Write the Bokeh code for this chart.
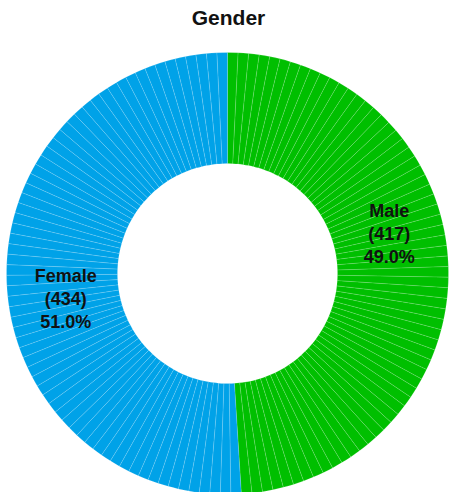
import math
from bokeh.plotting import figure
from bokeh.models import Range1d, Label
from bokeh.core.properties import value
from bokeh.embed import file_html
from bokeh.resources import INLINE

genders = ["Male", "Female"]
counts = [417, 434]
colors = ["#00bf00", "#00a2e8"]
title_text = "Gender"

W, H = 449, 492
cx, cy = 227, 219
R_OUT, R_IN = 221, 110
SEG_DEG = 2.75

p = figure(width=W, height=H, output_backend="svg", toolbar_location=None,
           x_range=Range1d(0, W), y_range=Range1d(0, H), min_border=0)
p.axis.visible = False
p.grid.visible = False
p.outline_line_color = None
p.background_fill_color = "white"
p.border_fill_color = "white"

total = sum(counts)
start = 90.0  # degrees, going clockwise
for g, c, col in zip(genders, counts, colors):
    span = 360.0 * c / total
    end = start - span
    nseg = max(1, round(span / SEG_DEG))
    step = span / nseg
    starts, ends = [], []
    for i in range(nseg):
        a1 = start - i * step
        a0 = a1 - step
        starts.append(math.radians(a0))
        ends.append(math.radians(a1))
    p.annular_wedge(x=[cx] * nseg, y=[cy] * nseg, inner_radius=R_IN, outer_radius=R_OUT,
                    start_angle=starts, end_angle=ends, direction="anticlock",
                    fill_color=col, line_color="white", line_alpha=0.18, line_width=0.8)
    mid = math.radians((start + end) / 2 + 9.5)
    lr = 165
    pct = 100.0 * c / total
    p.text(x=[cx + lr * math.cos(mid)], y=[cy + lr * math.sin(mid) + 7],
           text=[f"{g}\n({c})\n{pct:.1f}%"], text_align="center", text_baseline="middle",
           text_font=value("Liberation Sans"), text_font_style="bold",
           text_font_size="18px", text_color="#111111", text_line_height=1.15)
    start = end

p.add_layout(Label(x=cx + 1, y=H - 5, x_units="screen", y_units="screen", text=title_text,
                   text_align="center", text_baseline="top", text_font="Liberation Sans",
                   text_font_style="bold", text_font_size="21px", text_color="#111111"))

open("out.html", "w").write(file_html(p, INLINE))
